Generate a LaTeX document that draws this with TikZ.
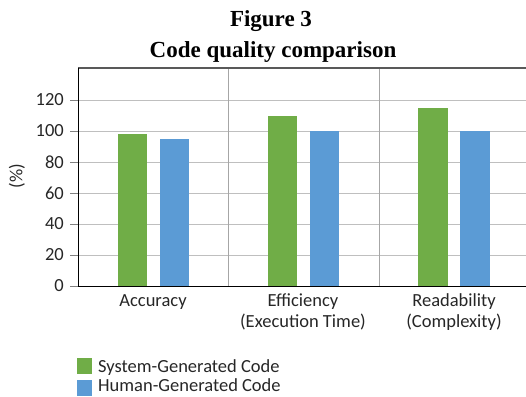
\documentclass[tikz,border=0pt]{standalone}
\usepackage{fontspec}
\setmainfont{Carlito}
\newfontfamily\titlefont{Liberation Serif}
\definecolor{sysgreen}{HTML}{70AD47}
\definecolor{humblue}{HTML}{5B9BD5}
\definecolor{gridgray}{HTML}{BFBFBF}
\definecolor{sepgray}{HTML}{A6A6A6}
\definecolor{topgray}{HTML}{595959}
\definecolor{txtgray}{HTML}{262626}
\definecolor{tickgray}{HTML}{808080}
\begin{document}
\begin{tikzpicture}[x=1pt,y=-1pt,
  lbl/.style={font=\fontsize{18.5}{22}\selectfont, text=txtgray, inner sep=0pt},
  ttl/.style={font=\titlefont\bfseries\fontsize{23}{27}\selectfont, inner sep=0pt},
  gridl/.style={draw=gridgray, line width=1pt},
  sepl/.style={draw=sepgray, line width=0.8pt},
  axisl/.style={draw=black, line width=1pt},
  tickl/.style={draw=tickgray, line width=1pt},
  sysbar/.style={fill=sysgreen},
  humbar/.style={fill=humblue}]
\useasboundingbox (0,0) rectangle (526,396);
% title
\node[ttl, anchor=base] (t1) at (271,27) {Figure 3};
\node[ttl, anchor=base] (t2) at (273,57) {Code quality comparison};
% gridlines
\foreach \v in {20,40,...,120} {
  \draw[gridl] (78,{286-1.55*\v}) -- (526,{286-1.55*\v});
}
% separators
\draw[sepl] (228,68) -- (228,286);
\draw[sepl] (379,68) -- (379,286);
% top border
\draw[draw=topgray, line width=1.6pt] (78,68) -- (526,68);
% bars
\fill[sysbar] (118,286) rectangle (147,{286-1.55*98});
\fill[humbar] (160,286) rectangle (189,{286-1.55*95});
\fill[sysbar] (268,286) rectangle (297,{286-1.55*110});
\fill[humbar] (310,286) rectangle (339,{286-1.55*100});
\fill[sysbar] (418,286) rectangle (448,{286-1.55*115});
\fill[humbar] (460,286) rectangle (490,{286-1.55*100});
% axes
\foreach \v in {0,20,...,120} {
  \draw[tickl] (70,{286-1.55*\v}) -- (78,{286-1.55*\v});
  \node[lbl, anchor=east] (y\v) at (64,{286-1.55*\v}) {\v};
}
\draw[axisl] (78,67.5) -- (78,286) -- (526,286);
\node[lbl, rotate=90] (ylab) at (17,176) {(\%)};
% categories
\node[lbl, anchor=base] (c1) at (153,306) {Accuracy};
\node[lbl, anchor=base] (c2a) at (303,306) {Efficiency};
\node[lbl, anchor=base] (c2b) at (303,327) {(Execution Time)};
\node[lbl, anchor=base] (c3a) at (454,306) {Readability};
\node[lbl, anchor=base] (c3b) at (454,327) {(Complexity)};
% legend
\fill[sysbar] (77,358) rectangle (92,374);
\fill[humbar] (77,380) rectangle (92,396);
\node[lbl, anchor=base west] (l1) at (98,372) {System-Generated Code};
\node[lbl, anchor=base west] (l2) at (98,391.5) {Human-Generated Code};
\end{tikzpicture}
\end{document}
